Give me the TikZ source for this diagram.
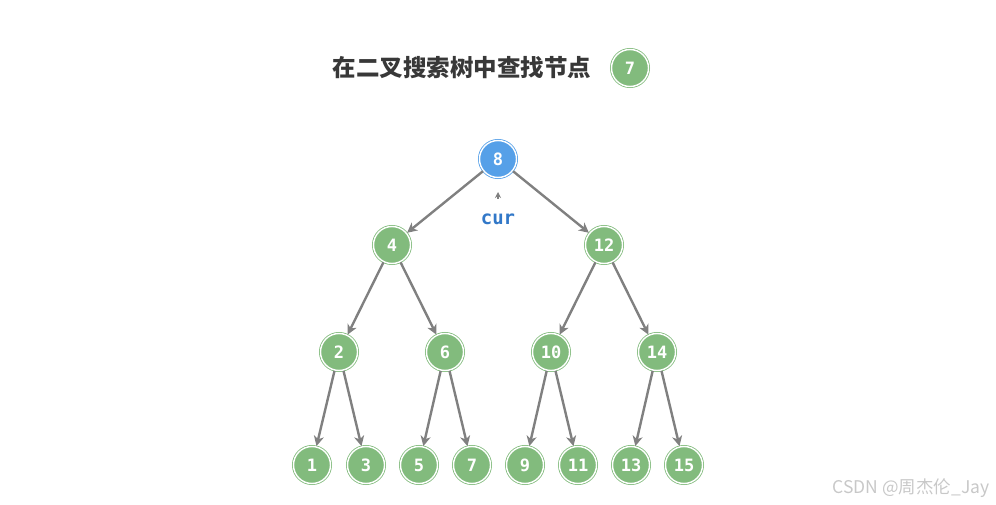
\documentclass[tikz,border=0pt]{standalone}
\usepackage{fontspec}
\setmainfont{DejaVu Sans}
\newfontfamily\cjkfont{Noto Sans CJK SC}
\newfontfamily\numfont{DejaVu Sans Mono}
\usetikzlibrary{arrows.meta}
\definecolor{treegreen}{RGB}{130,187,125}
\definecolor{rootblue}{RGB}{86,160,232}
\definecolor{edgegray}{RGB}{128,128,128}
\definecolor{curblue}{RGB}{50,120,200}
\definecolor{wmgray}{RGB}{200,200,200}
\tikzset{
  tnode/.style={circle, minimum size=37pt, inner sep=0pt, fill=treegreen, draw=treegreen,
    line width=0.8pt, double=white, double distance=1.4pt,
    text=white, font=\numfont\bfseries\fontsize{17}{17}\selectfont},
  rnode/.style={tnode, fill=rootblue, draw=rootblue},
  conn/.style={draw=edgegray, line width=2.4pt, -{Stealth[length=10pt,width=10pt,inset=3pt]}, shorten >=0.5pt, shorten <=0.5pt},
}
\begin{document}
\begin{tikzpicture}[x=1pt,y=-1pt]
\useasboundingbox (0,0) rectangle (996,505);
\node[font=\cjkfont\bfseries\fontsize{23.5}{23.5}\selectfont, text=black!78] (title) at (462,68) {在二叉搜索树中查找节点};
\node[tnode] (t7) at (630,68) {7};
\node[rnode] (n8) at (498,159) {8};
\node[tnode] (n4) at (392,245) {4};
\node[tnode] (n12) at (604,245) {12};
\node[tnode] (n2) at (339,352) {2};
\node[tnode] (n6) at (445,352) {6};
\node[tnode] (n10) at (551,352) {10};
\node[tnode] (n14) at (657,352) {14};
\node[tnode] (n1) at (312,465) {1};
\node[tnode] (n3) at (366,465) {3};
\node[tnode] (n5) at (419,465) {5};
\node[tnode] (n7) at (472,465) {7};
\node[tnode] (n9) at (525,465) {9};
\node[tnode] (n11) at (578,465) {11};
\node[tnode] (n13) at (631,465) {13};
\node[tnode] (n15) at (684,465) {15};
\foreach \a/\b in {n8/n4,n8/n12,n4/n2,n4/n6,n12/n10,n12/n14,n2/n1,n2/n3,n6/n5,n6/n7,n10/n9,n10/n11,n14/n13,n14/n15}
  \draw[conn] (\a) -- (\b);
\node[font=\numfont\bfseries\fontsize{19}{19}\selectfont, text=curblue] (cur) at (498,219) {cur};
\coordinate (curtip) at (498,192);
\coordinate (curbase) at (498,199);
\draw[edgegray, line width=1.2pt, -{Stealth[length=6pt,width=6pt,inset=2pt]}] (curbase) -- (curtip);
\node[font=\cjkfont\fontsize{17.5}{17.5}\selectfont, text=wmgray, anchor=east] (wm) at (993,488) {CSDN @周杰伦\_Jay};
\end{tikzpicture}
\end{document}
